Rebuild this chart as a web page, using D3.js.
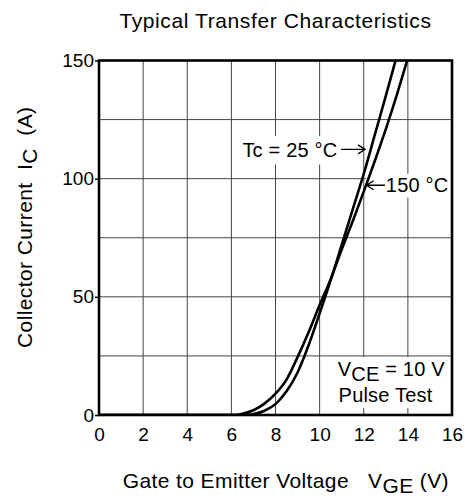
<!DOCTYPE html>
<html>
<head>
<meta charset="utf-8">
<script src="https://cdn.jsdelivr.net/npm/d3@7"></script>
<style>
  body { margin: 0; background: #fff; }
  text { font-family: "Liberation Sans", Arial, sans-serif; fill: #000; white-space: pre; }
</style>
</head>
<body>
<script>
const width = 465;
const height = 498;
const margin = { top: 60.5, right: 12, bottom: 83, left: 99 };

// Typical transfer characteristics (VGE in V, IC in A)
const vge25 = [0, 6.7, 7, 7.5, 8, 8.5, 9, 9.5, 10, 10.5, 11, 11.5, 12, 12.5, 13, 13.5];
const ic25 = [0, 0, 0.4, 1.8, 4.6, 10, 18, 29.5, 43, 57, 72, 87, 102, 118.5, 135, 152];
const vge150 = [0, 6.2, 6.5, 7, 7.5, 8, 8.5, 9, 9.5, 10, 10.5, 11, 11.5, 12, 12.5, 13, 13.5, 14];
const ic150 = [0, 0, 0.5, 2, 4.8, 9, 15, 24.5, 35, 46.5, 57.5, 70, 82, 94.5, 107.5, 121, 135.5, 151];

const xTicks = [0, 2, 4, 6, 8, 10, 12, 14, 16];
const yTicks = [0, 50, 100, 150];
const yGrid = [25, 50, 75, 100, 125];

const svg = d3.select('body')
  .append('svg')
    .attr('width', width)
    .attr('height', height);

const x = d3.scaleLinear()
  .domain([0, 16])
  .range([margin.left, width - margin.right - 1]);

const y = d3.scaleLinear()
  .domain([0, 150])
  .range([height - margin.bottom, margin.top]);

svg.append('clipPath')
  .attr('id', 'plot-clip')
  .append('rect')
    .attr('x', x(0))
    .attr('y', y(150))
    .attr('width', x(16) - x(0))
    .attr('height', y(0) - y(150));

// grid
const grid = svg.append('g')
  .attr('stroke', '#444')
  .attr('stroke-width', 1);

grid.selectAll('.vgrid')
  .data(xTicks.slice(1, -1))
  .enter()
    .append('line')
    .attr('x1', d => x(d)).attr('x2', d => x(d))
    .attr('y1', y(0)).attr('y2', y(150));

grid.selectAll('.hgrid')
  .data(yGrid)
  .enter()
    .append('line')
    .attr('x1', x(0)).attr('x2', x(16))
    .attr('y1', d => y(d)).attr('y2', d => y(d));

// axes (labels only, frame drawn separately)
const xAxis = d3.axisBottom(x)
  .tickValues(xTicks)
  .tickSize(0)
  .tickPadding(13);

const yAxis = d3.axisLeft(y)
  .tickValues(yTicks)
  .tickSize(4)
  .tickPadding(1);

const axes = svg.append('g');

axes.append('g')
    .attr('transform', `translate(0, ${y(0)})`)
    .call(xAxis)
    .call(g => g.select('.domain').remove())
    .selectAll('text')
      .attr('font-size', 19)
      .attr('font-family', '"Liberation Sans", Arial, sans-serif')
      .attr('fill', '#000');

axes.append('g')
    .attr('transform', `translate(${x(0)}, 0)`)
    .call(yAxis)
    .call(g => g.select('.domain').remove())
    .call(g => g.selectAll('line').attr('stroke', '#000').attr('stroke-width', 1.5))
    .selectAll('text')
      .attr('font-size', 19)
      .attr('font-family', '"Liberation Sans", Arial, sans-serif')
      .attr('fill', '#000');

// annotation backgrounds + labels, positioned in data units
const labels = svg.append('g');

const addLabel = (box, parts) => {
  labels.append('rect')
    .attr('x', x(box[0]))
    .attr('y', y(box[3]))
    .attr('width', x(box[1]) - x(box[0]))
    .attr('height', y(box[2]) - y(box[3]))
    .attr('fill', '#fff');
  parts.forEach(p => {
    const t = labels.append('text')
      .attr('x', x(p.v))
      .attr('y', y(p.i))
      .attr('font-size', 20)
      .attr('letter-spacing', 0.2);
    t.append('tspan').text(p.text);
    if (p.sub) {
      t.append('tspan').attr('dy', 5).text(p.sub);
      t.append('tspan').attr('dy', -5).text(p.rest);
    }
  });
};

addLabel([6.35, 10.9, 106, 118], [{ v: 6.5, i: 109, text: 'Tc = 25 °C' }]);
addLabel([12.1, 15.95, 92, 102], [{ v: 13.0, i: 94.3, text: '150 °C' }]);
addLabel([10.55, 15.95, 3, 24.5], [
  { v: 10.82, i: 16.5, text: 'V', sub: 'CE', rest: ' = 10 V' },
  { v: 10.86, i: 5.6, text: 'Pulse Test' },
]);

// curves
const line = d3.line()
  .curve(d3.curveMonotoneX)
  .x(d => x(d[0]))
  .y(d => y(d[1]));

const curves = svg.append('g')
  .attr('clip-path', 'url(#plot-clip)');

curves.selectAll('.curve')
  .data([d3.zip(vge25, ic25), d3.zip(vge150, ic150)])
  .enter()
    .append('path')
    .attr('fill', 'none')
    .attr('stroke', '#000')
    .attr('stroke-width', 2.6)
    .attr('d', d => line(d));

// arrows
const arrow = (from, to) => {
  const x1 = x(from[0]), y1 = y(from[1]), x2 = x(to[0]), y2 = y(to[1]);
  const dir = Math.sign(x2 - x1);
  labels.append('path')
    .attr('fill', 'none')
    .attr('stroke', '#000')
    .attr('stroke-width', 1.4)
    .attr('d', `M${x1},${y1}L${x2},${y2}M${x2 - dir * 7},${y2 - 4.5}L${x2},${y2}L${x2 - dir * 7},${y2 + 4.5}`);
};

arrow([10.97, 112.4], [12.06, 112.4]);
arrow([12.96, 97.2], [12.13, 97.2]);

// frame
svg.append('rect')
  .attr('x', x(0))
  .attr('y', y(150))
  .attr('width', x(16) - x(0))
  .attr('height', y(0) - y(150))
  .attr('fill', 'none')
  .attr('stroke', '#000')
  .attr('stroke-width', 2.6);

// titles
svg.append('text')
  .attr('x', x(8))
  .attr('y', 28.3)
  .attr('text-anchor', 'middle')
  .attr('font-size', 21)
  .attr('letter-spacing', 0.6)
  .text('Typical Transfer Characteristics');

svg.append('text')
  .attr('x', 122.7)
  .attr('y', 488.3)
  .attr('font-size', 21)
  .attr('letter-spacing', 0.4)
  .text('Gate to Emitter Voltage');

const vge = svg.append('text')
  .attr('x', 368)
  .attr('y', 488.3)
  .attr('font-size', 21)
  .attr('letter-spacing', 0.4);
vge.append('tspan').text('V');
vge.append('tspan').attr('dy', 5).text('GE');
vge.append('tspan').attr('dy', -5).text(' (V)');

const ylab = svg.append('text')
  .attr('transform', `translate(32, 348) rotate(-90)`)
  .attr('font-size', 21)
  .attr('letter-spacing', 0.4);
ylab.append('tspan').text('Collector Current  I');
ylab.append('tspan').attr('dy', 5).text('C');
ylab.append('tspan').attr('dy', -5).text('  (A)');
</script>
</body>
</html>
